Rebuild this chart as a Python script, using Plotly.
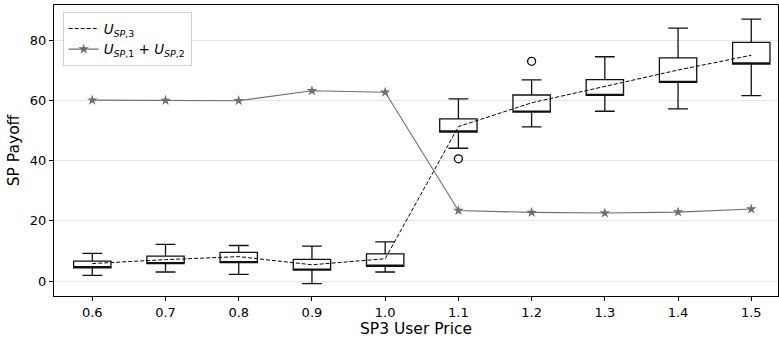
import plotly.graph_objects as go

# SP3 user price levels
prices = [0.6, 0.7, 0.8, 0.9, 1.0, 1.1, 1.2, 1.3, 1.4, 1.5]

# Distribution of SP3 payoff at each price
whisk_lo = [1.9, 3.0, 2.2, -0.9, 3.0, 44.1, 51.2, 56.4, 57.2, 61.6]
q1 = [4.4, 5.8, 6.1, 3.6, 4.9, 49.5, 56.1, 61.7, 66.0, 72.1]
q3 = [6.6, 8.3, 9.5, 7.2, 9.0, 53.9, 61.8, 66.9, 74.1, 79.3]
whisk_hi = [9.2, 12.2, 11.8, 11.6, 13.0, 60.5, 66.8, 74.5, 84.0, 87.0]

# Mean SP3 payoff (dashed curve)
u_sp3 = [5.8, 7.1, 8.1, 5.4, 7.4, 51.3, 59.2, 64.6, 70.1, 75.0]

# Combined payoff of SP1 and SP2
u_sp12 = [60.1, 60.0, 59.9, 63.2, 62.7, 23.4, 22.8, 22.6, 22.9, 23.9]

# Outlying samples
out_x = [1.1, 1.2]
out_y = [40.6, 73.0]

FONT = "DejaVu Sans, sans-serif"

fig = go.Figure()

fig.add_trace(go.Box(
    x=prices,
    q1=q1,
    median=q1,  # median stroke hidden on the lower box edge
    q3=q3,
    lowerfence=whisk_lo,
    upperfence=whisk_hi,
    width=0.051,
    whiskerwidth=0.53,
    fillcolor="rgba(255,255,255,0)",
    line=dict(color="#111111", width=1.3),
    boxpoints=False,
    showlegend=False,
    hoverinfo="skip",
))

fig.add_trace(go.Scatter(
    x=out_x, y=out_y, mode="markers",
    marker=dict(symbol="circle-open", size=8, color="black", line=dict(width=1.3)),
    showlegend=False,
))

fig.add_trace(go.Scatter(
    x=prices, y=u_sp3, mode="lines",
    line=dict(color="black", width=1, dash="4px,2px"),
    name="<i>U</i><sub><i>SP</i>,3</sub>",
))

fig.add_trace(go.Scatter(
    x=prices, y=u_sp12, mode="lines+markers",
    line=dict(color="#6e6e6e", width=1.1),
    marker=dict(symbol="star", size=8, color="#6e6e6e"),
    name="<i>U</i><sub><i>SP</i>,1</sub> + <i>U</i><sub><i>SP</i>,2</sub>",
))

fig.update_layout(
    width=779, height=344,
    margin=dict(l=54, r=1, t=5, b=48),
    plot_bgcolor="white",
    paper_bgcolor="white",
    font=dict(family=FONT, size=13, color="black"),
    legend=dict(
        x=0.012, y=0.975, xanchor="left", yanchor="top",
        bgcolor="rgba(255,255,255,0.85)",
        bordercolor="#d0d0d0", borderwidth=1,
        font=dict(family=FONT, size=13.5),
        tracegroupgap=0,
        itemwidth=30,
    ),
)

fig.update_xaxes(
    range=[0.5477, 1.5365],
    tickvals=prices,
    ticktext=[f"{p:.1f}" for p in prices],
    tickfont=dict(size=13),
    ticks="outside", ticklen=4, tickwidth=1, tickcolor="black",
    showline=True, linecolor="black", linewidth=1, mirror=True,
    showgrid=False, zeroline=False,
    title=dict(text="SP3 User Price", font=dict(size=15.5), standoff=3),
)

fig.update_yaxes(
    range=[-4.98, 91.7],
    tickvals=[0, 20, 40, 60, 80],
    tickfont=dict(size=13),
    ticks="outside", ticklen=4, tickwidth=1, tickcolor="black",
    showline=True, linecolor="black", linewidth=1, mirror=True,
    showgrid=True, gridcolor="#e6e6e6", gridwidth=1, zeroline=False,
    title=dict(text="SP Payoff", font=dict(size=15.5), standoff=6),
)

fig.write_html("out.html")
